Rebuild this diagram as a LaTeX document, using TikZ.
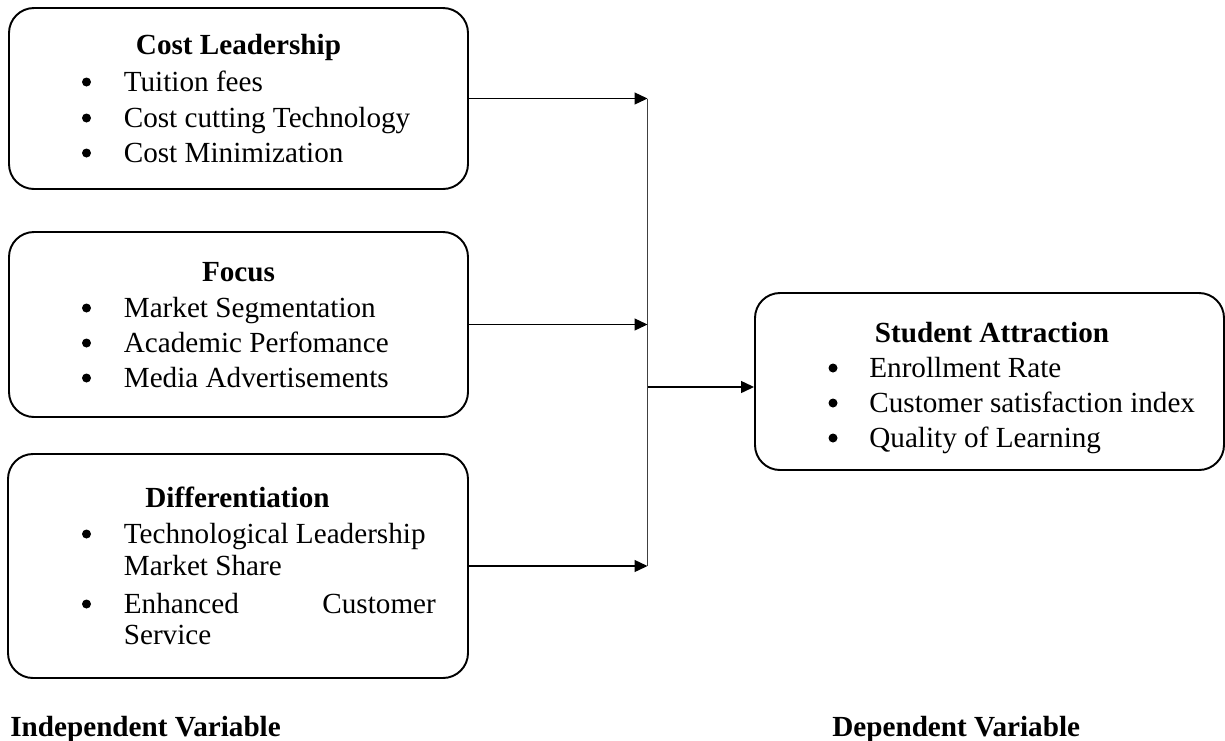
\documentclass[tikz,border=0pt]{standalone}
\usepackage{fontspec}
\setmainfont{Liberation Serif}
\usepackage{tikz}
\usetikzlibrary{arrows.meta,positioning,calc}

\begin{document}
\begin{tikzpicture}[>={Triangle[length=0.26cm,width=0.24cm]},
  box/.style={draw, line width=1.1pt, rounded corners=0.5cm, inner sep=0pt},
  title/.style={anchor=base, font=\fontsize{16.6}{19}\selectfont\bfseries},
  item/.style={anchor=base west, inner sep=0pt, font=\fontsize{16.6}{19}\selectfont},
  link/.style={->, line width=0.75pt}]

  \useasboundingbox (0,0) rectangle (24.5,-14.8);

  % Define nodes
  \node[box, minimum width=9.18cm, minimum height=3.62cm] (cl) at (4.77,-1.97) {};
  \node[box, minimum width=9.18cm, minimum height=3.70cm] (fo) at (4.77,-6.49) {};
  \node[box, minimum width=9.20cm, minimum height=4.48cm] (df) at (4.76,-11.32) {};
  \node[box, minimum width=9.38cm, minimum height=3.54cm] (sa) at (19.79,-7.63) {};

  % Cost leadership
  \node[title] (clt) at (4.77,-1.08) {Cost Leadership};
  \node[item] (cl1) at (2.47,-1.82) {Tuition fees};
  \node[item] (cl2) at (2.47,-2.54) {Cost cutting Technology};
  \node[item] (cl3) at (2.47,-3.24) {Cost Minimization};

  % Focus
  \node[title] (fot) at (4.77,-5.62) {Focus};
  \node[item] (fo1) at (2.47,-6.34) {Market Segmentation};
  \node[item] (fo2) at (2.47,-7.04) {Academic Perfomance};
  \node[item] (fo3) at (2.47,-7.74) {Media Advertisements};

  % Differentiation
  \node[title] (dft) at (4.75,-10.14) {Differentiation};
  \node[item] (df1) at (2.47,-10.86) {Technological Leadership};
  \node[item] (df2) at (2.47,-11.50) {Market Share};
  \node[item] (df3) at (2.47,-12.26) {\makebox[6.24cm][l]{Enhanced\hfill Customer}};
  \node[item] (df4) at (2.47,-12.88) {Service};

  % Student attraction
  \node[title] (sat) at (19.84,-6.84) {Student Attraction};
  \node[item] (sa1) at (17.38,-7.54) {Enrollment Rate};
  \node[item] (sa2) at (17.38,-8.24) {Customer satisfaction index};
  \node[item] (sa3) at (17.38,-8.94) {Quality of Learning};

  % Bullets
  \foreach \n in {cl1,cl2,cl3,fo1,fo2,fo3,df1,df3}
    \fill ([shift={(-0.74,0.18)}]\n.base west) circle (0.09);
  \foreach \n in {sa1,sa2,sa3}
    \fill ([shift={(-0.72,0.18)}]\n.base west) circle (0.09);

  % Variable labels
  \node[item, font=\fontsize{16.6}{19}\selectfont\bfseries] (iv) at (0.20,-14.72) {Independent Variable};
  \node[item, font=\fontsize{16.6}{19}\selectfont\bfseries] (dv) at (16.64,-14.72) {Dependent Variable};

  % Draw arrows
  \coordinate (hub) at (12.95,-1.98);
  \coordinate (join) at (12.95,-7.74);
  \draw[line width=0.7pt, black!75] (cl.east -| hub) -- (df.east -| hub);
  \draw[link] (cl.east) -- (cl.east -| hub);
  \draw[link] (fo.east) -- (fo.east -| hub);
  \draw[link] (df.east) -- (df.east -| hub);
  \draw[link] (join) -- (join -| sa.west);
\end{tikzpicture}
\end{document}
